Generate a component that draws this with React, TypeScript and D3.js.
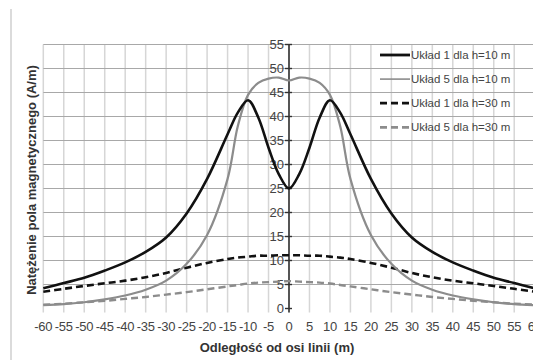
import React, { useEffect, useRef } from "react";
import * as d3 from "d3";

// distance from the line axis (m)
const distances = [
  -60, -55, -50, -45, -40, -35, -30, -25, -20, -15, -12.5, -10, -7.5, -5, -2.5, 0,
  2.5, 5, 7.5, 10, 12.5, 15, 20, 25, 30, 35, 40, 45, 50, 55, 60,
];

// Układ 1 dla h=10 m
const uklad1h10 = [
  4.2, 5.3, 6.4, 7.9, 9.6, 11.8, 14.8, 19.8, 27, 36.3, 40.8, 43.4, 39.8, 33.5, 28, 25,
  28, 33.5, 39.8, 43.4, 40.8, 36.3, 27, 19.8, 14.8, 11.8, 9.6, 7.9, 6.4, 5.3, 4.2,
];

// Układ 5 dla h=10 m
const uklad5h10 = [
  0.7, 0.9, 1.3, 1.9, 2.7, 3.9, 5.8, 9.3, 15.3, 27, 38, 44.5, 47, 47.9, 48.1, 47.5,
  48.1, 47.9, 47, 44.5, 38, 27, 15.3, 9.3, 5.8, 3.9, 2.7, 1.9, 1.3, 0.9, 0.7,
];

// Układ 1 dla h=30 m
const uklad1h30 = [
  3.5, 4.1, 4.7, 5.25, 5.8, 6.5, 7.4, 8.5, 9.5, 10.3, 10.6, 10.8, 11, 11, 11.1, 11.1,
  11.1, 11, 11, 10.8, 10.6, 10.3, 9.5, 8.5, 7.4, 6.5, 5.8, 5.25, 4.7, 4.1, 3.5,
];

// Układ 5 dla h=30 m
const uklad5h30 = [
  0.8, 1.0, 1.3, 1.6, 2.0, 2.4, 2.9, 3.4, 4.0, 4.6, 4.9, 5.2, 5.4, 5.5, 5.6, 5.7,
  5.6, 5.5, 5.4, 5.2, 4.9, 4.6, 4.0, 3.4, 2.9, 2.4, 2.0, 1.6, 1.3, 1.0, 0.8,
];

const xTicks = d3.range(-60, 61, 5);
const yTicks = d3.range(0, 56, 5);

const seriesNames = [
  "Układ 1 dla h=10 m",
  "Układ 5 dla h=10 m",
  "Układ 1 dla h=30 m",
  "Układ 5 dla h=30 m",
];

function App() {
  const svgRef = useRef<SVGSVGElement>(null);
  const width = 533;
  const height = 360;

  useEffect(() => {
    const svg = d3.select(svgRef.current);
    svg.selectAll("*").remove();

    const font = "'Liberation Sans', Arial, sans-serif";

    const x = d3.scaleLinear().domain([-60, 60]).range([43.3, 534.7]);
    const y = d3.scaleLinear().domain([0, 55]).range([308.5, 44.5]);

    // outer chart frame (only left edge visible)
    svg
      .append("line")
      .attr("x1", 11)
      .attr("x2", 11)
      .attr("y1", 9)
      .attr("y2", height)
      .attr("stroke", "#cfcfcf")
      .attr("stroke-width", 1.5);

    // vertical grid
    svg
      .append("g")
      .selectAll("line")
      .data(xTicks)
      .enter()
      .append("line")
      .attr("x1", (d) => x(d))
      .attr("x2", (d) => x(d))
      .attr("y1", y(55))
      .attr("y2", y(0) + 4)
      .attr("stroke", "#d6d6d6")
      .attr("stroke-width", 1.5);

    // horizontal grid
    svg
      .append("g")
      .selectAll("line")
      .data(yTicks.filter((d) => d > 0))
      .enter()
      .append("line")
      .attr("x1", x(-60))
      .attr("x2", width)
      .attr("y1", (d) => y(d))
      .attr("y2", (d) => y(d))
      .attr("stroke", "#a8a8a8")
      .attr("stroke-width", 1.2);

    // y axis at x=0
    const x0 = x(0);
    svg
      .append("line")
      .attr("x1", x0)
      .attr("x2", x0)
      .attr("y1", y(55))
      .attr("y2", y(0) + 4)
      .attr("stroke", "#333")
      .attr("stroke-width", 1.6);

    svg
      .append("g")
      .selectAll("line")
      .data(yTicks)
      .enter()
      .append("line")
      .attr("x1", x0 - 4)
      .attr("x2", x0 + 3)
      .attr("y1", (d) => y(d))
      .attr("y2", (d) => y(d))
      .attr("stroke", "#333")
      .attr("stroke-width", 1.4);

    // y tick labels
    svg
      .append("g")
      .selectAll("text")
      .data(yTicks)
      .enter()
      .append("text")
      .attr("x", x0 - 5)
      .attr("y", (d) => y(d))
      .attr("dy", "0.36em")
      .attr("text-anchor", "end")
      .style("font-family", font)
      .style("font-size", "13px")
      .style("fill", "#444")
      .text((d) => d);

    // x tick labels
    svg
      .append("g")
      .selectAll("text")
      .data(xTicks)
      .enter()
      .append("text")
      .attr("x", (d) => x(d))
      .attr("y", 326)
      .attr("dy", "0.36em")
      .attr("text-anchor", "middle")
      .style("font-family", font)
      .style("font-size", "13px")
      .style("letter-spacing", "-0.3px")
      .style("fill", "#444")
      .text((d) => d);

    // series
    const series = [
      { values: uklad1h10, color: "#111", width: 2.6, dash: null },
      { values: uklad5h10, color: "#8c8c8c", width: 2.2, dash: null },
      { values: uklad1h30, color: "#111", width: 2.6, dash: "7,4" },
      { values: uklad5h30, color: "#8c8c8c", width: 2.4, dash: "7,4" },
    ];

    const line = d3
      .line<number>()
      .x((d, i) => x(distances[i]))
      .y((d) => y(d))
      .curve(d3.curveCatmullRom.alpha(0.5));

    // draw back to front: h=30 lines first
    [3, 2, 1, 0].forEach((k) => {
      const s = series[k];
      svg
        .append("path")
        .datum(s.values)
        .attr("fill", "none")
        .attr("stroke", s.color)
        .attr("stroke-width", s.width)
        .attr("stroke-dasharray", s.dash)
        .attr("d", line);
    });

    // legend
    const legend = svg.append("g");
    series.forEach((s, i) => {
      const ly = 55 + i * 24.1;
      legend
        .append("line")
        .attr("x1", 380)
        .attr("x2", 410)
        .attr("y1", ly)
        .attr("y2", ly)
        .attr("stroke", s.color)
        .attr("stroke-width", i === 1 ? 1.6 : 2.8)
        .attr("stroke-dasharray", s.dash);
      legend
        .append("text")
        .attr("x", 411)
        .attr("y", ly)
        .attr("dy", "0.36em")
        .style("font-family", font)
        .style("font-size", "11.5px")
        .style("fill", "#444")
        .text(seriesNames[i]);
    });

    // axis titles
    svg
      .append("text")
      .attr("x", 277)
      .attr("y", 347)
      .attr("dy", "0.36em")
      .attr("text-anchor", "middle")
      .style("font-family", font)
      .style("font-size", "13px")
      .style("font-weight", "bold")
      .style("fill", "#333")
      .text("Odległość od osi linii (m)");

    svg
      .append("text")
      .attr("transform", "translate(31,180) rotate(-90)")
      .attr("dy", "0.36em")
      .attr("text-anchor", "middle")
      .style("font-family", font)
      .style("font-size", "13px")
      .style("font-weight", "bold")
      .style("fill", "#333")
      .text("Natężenie pola magnetycznego (A/m)");
  }, []);

  return (
    <svg
      ref={svgRef}
      width={width}
      height={height}
      style={{ position: "fixed", left: 0, top: 0, background: "#fff" }}
    ></svg>
  );
}

export default App;
